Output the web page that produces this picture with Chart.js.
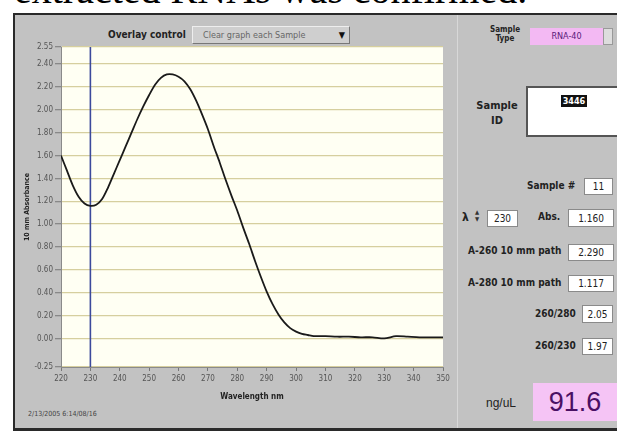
<!DOCTYPE html>
<html><head><meta charset="utf-8">
<script src="https://cdn.jsdelivr.net/npm/chart.js@4"></script>
<style>
html,body{margin:0;padding:0;background:#fff;width:617px;height:433px;overflow:hidden;position:relative;font-family:"Liberation Sans Narrow","DejaVu Sans Condensed","Arial Narrow",sans-serif;}
.abs{position:absolute;}
#cap{left:14px;top:-32px;font-family:"Liberation Serif","Times New Roman",serif;font-size:40px;color:#000;white-space:nowrap;line-height:44px;}
#win{left:13px;top:13px;width:610px;height:418px;background:#c2c2c2;border-left:2px solid #2a2a2a;border-top:2px solid #2a2a2a;border-bottom:3px solid #2a2a2a;box-sizing:border-box;}
#sep{left:457px;top:15px;width:1px;height:413px;background:#d8d8d8;}
.lbl{font-weight:bold;font-size:10px;color:#222;white-space:nowrap;}
.box{background:#fff;border:1px solid #8a8a8a;box-sizing:border-box;font-size:10px;color:#222;text-align:center;display:flex;align-items:center;justify-content:center;}
#cv{position:absolute;left:15px;top:40px;width:440px;height:370px;}
</style></head><body>
<div id="cap" class="abs">extracted RNAs was confirmed.</div>
<div id="win" class="abs"></div>
<div id="sep" class="abs"></div>
<div class="abs lbl" style="left:108px;top:29px;font-size:10px;">Overlay control</div>
<div class="abs" style="left:192px;top:26px;width:158px;height:18px;background:#cfcfcf;border:1px solid #eee;border-right-color:#777;border-bottom-color:#777;box-sizing:border-box;font-size:9px;color:#666;line-height:16px;padding-left:10px;">Clear graph each Sample<span style="position:absolute;right:4px;top:0;color:#111;font-size:9px;">&#9660;</span></div>
<div class="abs lbl" style="left:490px;top:25px;font-size:8px;line-height:9px;text-align:center;width:30px;">Sample<br>Type</div>
<div class="abs" style="left:530px;top:28px;width:73px;height:17px;background:#f3b9f3;font-size:9px;color:#5a1a7a;text-align:center;line-height:17px;">RNA-40</div>
<div class="abs" style="left:603px;top:28px;width:10px;height:17px;background:#ddd;border:1px solid #999;box-sizing:border-box;"></div>
<div class="abs lbl" style="left:474px;top:98px;font-size:11px;line-height:15px;text-align:center;width:46px;">Sample<br>ID</div>
<div class="abs" style="left:526px;top:86px;width:95px;height:51px;background:#fff;border:2px solid #555;box-sizing:border-box;"></div>
<div class="abs" style="left:561px;top:95px;width:26px;height:12px;background:#111;color:#fff;font-size:9px;font-weight:bold;text-align:center;line-height:12px;">3446</div>
<div class="abs lbl" style="left:527px;top:180px;">Sample #</div>
<div class="abs box" style="left:584px;top:178px;width:29px;height:17px;">11</div>
<div class="abs lbl" style="left:462px;top:210px;font-size:12px;">λ</div>
<div class="abs" style="left:475px;top:208px;font-size:6px;color:#333;line-height:7px;">&#9650;<br>&#9660;</div>
<div class="abs box" style="left:487px;top:210px;width:31px;height:17px;">230</div>
<div class="abs lbl" style="left:538px;top:211px;">Abs.</div>
<div class="abs box" style="left:568px;top:209px;width:46px;height:18px;">1.160</div>
<div class="abs lbl" style="left:468px;top:245px;">A-260 10 mm path</div>
<div class="abs box" style="left:568px;top:244px;width:46px;height:17px;">2.290</div>
<div class="abs lbl" style="left:468px;top:277px;">A-280 10 mm path</div>
<div class="abs box" style="left:568px;top:275px;width:46px;height:17px;">1.117</div>
<div class="abs lbl" style="left:535px;top:308px;">260/280</div>
<div class="abs box" style="left:582px;top:305px;width:31px;height:18px;">2.05</div>
<div class="abs lbl" style="left:535px;top:340px;">260/230</div>
<div class="abs box" style="left:582px;top:338px;width:31px;height:17px;">1.97</div>
<div class="abs" style="left:486px;top:396px;font-size:12px;color:#222;font-family:'Liberation Sans',Arial,sans-serif;">ng/uL</div>
<div class="abs" style="left:533px;top:383px;width:84px;height:38px;background:#f5c4f5;color:#4a1064;font-size:27px;font-family:'Liberation Sans',Arial,sans-serif;text-align:center;line-height:38px;">91.6</div>
<div class="abs" style="left:28px;top:410px;font-size:7px;color:#444;">2/13/2005 6:14/08/16</div>
<canvas id="cv" width="440" height="370"></canvas>
<script>
const wavelengths = [220,222,224,226,228,230,232,234,236,238,240,242,244,246,248,250,252,254,256,258,260,262,264,266,268,270,272,274,276,278,280,282,284,286,288,290,292,294,296,298,300,302,304,306,308,310,314,318,322,326,330,334,338,342,346,350];
const absorbance = [1.60,1.47,1.34,1.24,1.18,1.16,1.17,1.22,1.32,1.44,1.56,1.68,1.80,1.92,2.03,2.13,2.22,2.28,2.31,2.31,2.29,2.25,2.18,2.08,1.96,1.83,1.68,1.54,1.39,1.25,1.117,0.97,0.83,0.68,0.54,0.41,0.30,0.21,0.14,0.09,0.06,0.04,0.03,0.02,0.02,0.02,0.015,0.015,0.01,0.01,0.0,0.02,0.015,0.01,0.01,0.01];
const cursorWavelength = [230, 230];
const cursorRange = [-0.25, 2.55];
const xTicks = [220,230,240,250,260,270,280,290,300,310,320,330,340,350];
const yTicks = [-0.25,0.00,0.20,0.40,0.60,0.80,1.00,1.20,1.40,1.60,1.80,2.00,2.20,2.40,2.55];

const FONT = '"Liberation Sans Narrow","DejaVu Sans Condensed","Arial Narrow",sans-serif';
const bgPlugin = {
  id:'bg',
  beforeDraw(chart){
    const {ctx, chartArea:a} = chart;
    ctx.save();
    ctx.fillStyle = '#fffff3';
    ctx.fillRect(a.left, a.top, a.right-a.left, a.bottom-a.top);
    ctx.restore();
  }
};
new Chart(document.getElementById('cv'), {
  type:'line',
  data:{
    datasets:[
      {data: wavelengths.map((w,i)=>({x:w,y:absorbance[i]})), borderColor:'#1a1a1a', borderWidth:1.8, pointRadius:0, tension:0.3, fill:false},
      {data: cursorWavelength.map((w,i)=>({x:w,y:cursorRange[i]})), borderColor:'#3c4a9c', borderWidth:1.6, pointRadius:0, fill:false}
    ]
  },
  options:{
    responsive:false, animation:false,
    layout:{padding:{left:0, top:7, right:12, bottom:0}},
    plugins:{legend:{display:false}, tooltip:{enabled:false}},
    scales:{
      x:{type:'linear', min:220, max:350,
        afterBuildTicks(s){ s.ticks = xTicks.map(v=>({value:v})); },
        afterFit(s){ s.height = 43; },
        grid:{drawOnChartArea:false, tickLength:4, color:'#777', tickColor:'#777'},
        border:{color:'#8a8a8a'},
        ticks:{font:{family:FONT,size:8}, color:'#555', padding:3, maxRotation:0, autoSkip:false, callback:v=>String(v)},
        title:{display:true, text:'Wavelength nm', font:{family:FONT,size:8,weight:'bold'}, color:'#222', padding:{top:0,bottom:8}}
      },
      y:{type:'linear', min:-0.25, max:2.55,
        afterBuildTicks(s){ s.ticks = yTicks.map(v=>({value:v})); },
        afterFit(s){ s.width = 46; },
        grid:{color:'#d6cf9e', lineWidth:1.3, tickLength:6, tickColor:'#888'},
        border:{color:'#8a8a8a'},
        ticks:{font:{family:FONT,size:8}, color:'#555', padding:2, autoSkip:false, callback:v=>Number(v).toFixed(2)},
        title:{display:true, text:'10 mm Absorbance', font:{family:FONT,size:7,weight:'bold'}, color:'#222', padding:{top:8,bottom:2}}
      }
    }
  },
  plugins:[bgPlugin]
});
</script>
</body></html>
